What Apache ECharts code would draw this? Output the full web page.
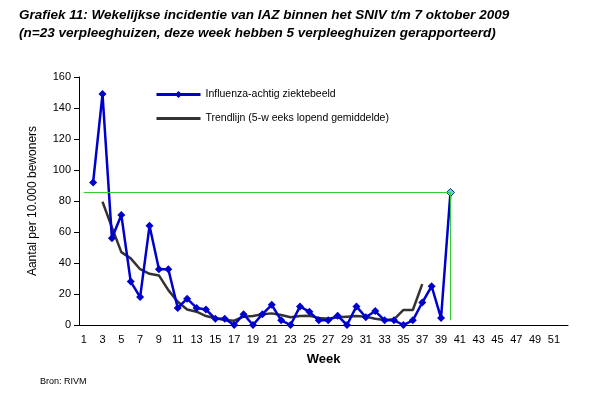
<!DOCTYPE html>
<html>
<head>
<meta charset="utf-8">
<script src="https://cdn.jsdelivr.net/npm/echarts@6/dist/echarts.min.js"></script>
<style>
  html, body {margin: 0; padding: 0; background: #fff;}
  #chart {width: 600px; height: 400px;}
</style>
</head>
<body>
<div id="chart"></div>
<script>
// weeks 1..52
const weeks = []
for (let w = 1; w <= 52; w++) weeks.push(String(w))

// weekly incidence per 10.000 residents (week 1 missing)
const iazValues = [null, 92, 149, 56, 71, 28, 18, 64, 36, 36,
  11, 17, 11, 10, 4, 4, 0, 7, 0, 7,
  13, 3, 0, 12, 8.5, 3, 3, 6, 0, 12,
  5, 9, 3, 3, 0, 3, 14.5, 25, 4.5, 85.5]

// 5-week moving average trend (weeks 3..37)
const trendValues = [null, null, 79.5, 63, 47, 43, 36, 33, 32, 22.5,
  15, 10, 8.6, 5.8, 4.3, 3.2, 2.8, 5.4, 5.8, 6.9,
  7.5, 6.4, 5, 5.8, 6, 4.6, 4, 5, 5.4, 5.8,
  5.4, 4, 3.2, 3.7, 9.7, 9.7, 26.4]

const yTicks = [0, 20, 40, 60, 80, 100, 120, 140, 160]

const lastWeek = '40'
const lastValue = iazValues[39]

const chart = echarts.init(document.getElementById('chart'))

chart.setOption({
  animation: false,
  textStyle: {fontFamily: 'Liberation Sans, Arial, sans-serif'},
  title: [
    {
      text: 'Grafiek 11: Wekelijkse incidentie van IAZ binnen het SNIV t/m 7 oktober 2009\n(n=23 verpleeghuizen, deze week hebben 5 verpleeghuizen gerapporteerd)',
      left: 14, top: 1,
      textStyle: {fontSize: 13.5, fontWeight: 'bold', fontStyle: 'italic', color: '#000', lineHeight: 18}
    },
    {
      text: 'Bron: RIVM',
      left: 35, top: 372,
      textStyle: {fontSize: 9, fontWeight: 'normal', color: '#000'}
    }
  ],
  legend: {
    orient: 'vertical',
    left: 150, top: 84,
    itemGap: 13,
    itemWidth: 44,
    itemHeight: 9,
    textStyle: {fontSize: 10.5, color: '#000'},
    data: [
      {name: 'Influenza-achtig ziektebeeld', lineStyle: {width: 3}},
      {name: 'Trendlijn (5-w eeks lopend gemiddelde)', itemStyle: {opacity: 0}, lineStyle: {width: 3}}
    ]
  },
  grid: {left: 79, right: 32, top: 77, bottom: 75},
  xAxis: {
    type: 'category',
    data: weeks,
    name: 'Week',
    nameLocation: 'middle',
    nameGap: 28,
    nameTextStyle: {fontSize: 13, fontWeight: 'bold', color: '#000'},
    axisLine: {lineStyle: {color: '#000', width: 1}},
    axisTick: {alignWithLabel: false, interval: 0, length: 5, lineStyle: {color: '#000'}},
    axisLabel: {interval: 1, fontSize: 11, color: '#000', margin: 9}
  },
  yAxis: {
    type: 'value',
    min: yTicks[0],
    max: yTicks[yTicks.length - 1],
    interval: 20,
    name: 'Aantal per 10.000 bewoners',
    nameLocation: 'middle',
    nameGap: 40,
    nameTextStyle: {fontSize: 12, color: '#000'},
    splitLine: {show: false},
    axisLine: {show: true, lineStyle: {color: '#000', width: 1}},
    axisTick: {show: true, length: 5, lineStyle: {color: '#000'}},
    axisLabel: {fontSize: 11, color: '#000', margin: 8}
  },
  series: [
    {
      name: 'Influenza-achtig ziektebeeld',
      type: 'line',
      data: iazValues.map((v, i) => i === 39
        ? {value: v, itemStyle: {color: '#66CCFF', borderColor: '#003366', borderWidth: 1}}
        : v),
      symbol: 'diamond',
      symbolSize: 8,
      showAllSymbol: true,
      connectNulls: false,
      z: 3,
      lineStyle: {color: '#0000CC', width: 2.5},
      itemStyle: {color: '#0000CC'},
      markLine: {
        silent: true,
        symbol: 'none',
        label: {show: false},
        lineStyle: {color: '#33CC33', width: 1, type: 'solid'},
        data: [
          [{coord: ['1', lastValue]}, {coord: [lastWeek, lastValue]}],
          [{coord: [lastWeek, lastValue]}, {coord: [lastWeek, 3]}]
        ]
      }
    },
    {
      name: 'Trendlijn (5-w eeks lopend gemiddelde)',
      type: 'line',
      data: trendValues,
      symbol: 'none',
      z: 2,
      lineStyle: {color: '#333333', width: 2.5},
      itemStyle: {color: '#333333'}
    }
  ]
})
</script>
</body>
</html>
